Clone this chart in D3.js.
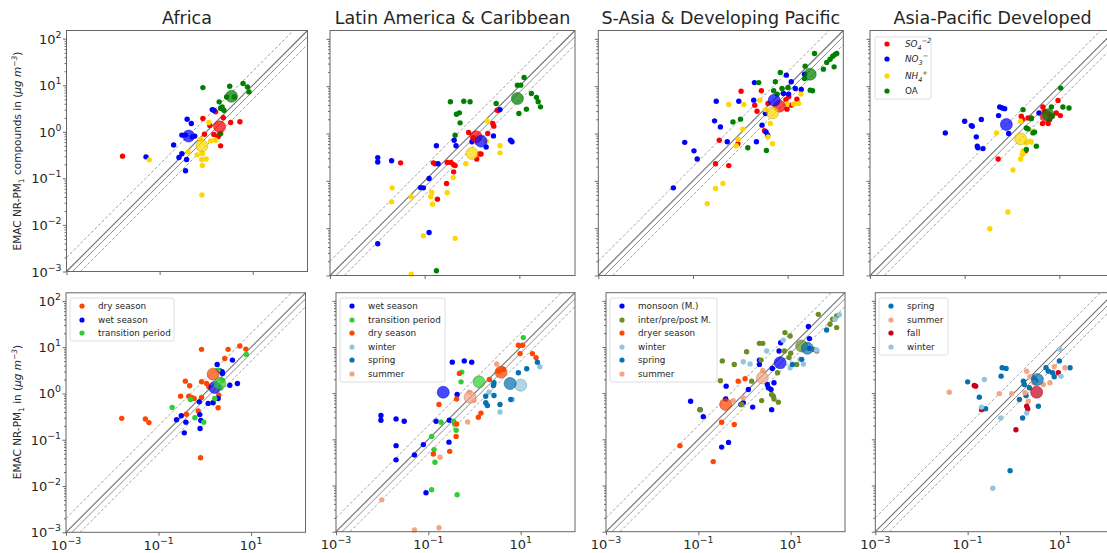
<!DOCTYPE html>
<html>
<head>
<meta charset="utf-8">
<script src="https://cdn.jsdelivr.net/npm/d3@7"></script>
<style>
  body { margin: 0; background: #fff; }
  svg text { font-family: "DejaVu Sans", sans-serif; fill: #262626; }
</style>
</head>
<body>
<svg id="chart" width="1107" height="553"></svg>
<script>
// ---------- titles and tick labels ----------
const regionTitles = ["Africa", "Latin America & Caribbean", "S-Asia & Developing Pacific", "Asia-Pacific Developed"];
const yTickExps = [-3, -2, -1, 0, 1, 2];
const xTickExps = [-3, -1, 1];

// ---------- compounds (observed, modelled) in µg m-3 ----------
// Africa
const afrSO4 = [[0.016,0.30],[0.85,1.93],[0.92,0.89],[1.2,1.37],[1.59,2.7],[1.79,0.78],[1.88,0.85],[2.04,0.50],[2.33,2.0],[3.35,1.58],[5.3,1.64],[1.46,0.88]];
const afrSO4Mean = [1.94,1.28];
const afrNO3 = [[0.051,0.29],[0.20,0.52],[0.26,0.28],[0.30,0.34],[0.38,0.255],[0.36,0.146],[0.39,1.87],[0.48,1.51],[0.30,0.85],[0.36,0.85],[0.50,0.78],[0.57,0.81],[1.35,3.0],[1.46,2.9]];
const afrNO3Mean = [0.42,0.81];
const afrNH4 = [[0.060,0.25],[0.41,0.37],[0.64,0.32],[0.83,0.34],[1.0,0.26],[0.80,0.255],[0.83,0.19],[0.81,0.044],[0.76,0.69],[1.24,0.64],[1.59,0.66],[1.14,1.58]];
const afrNH4Mean = [0.81,0.50];
const afrOA = [[0.85,8.9],[1.9,4.4],[2.04,3.2],[2.4,2.9],[2.2,3.4],[2.75,5.6],[3.2,9.5],[4.0,5.6],[6.2,10.9],[7.7,9.2],[8.3,7.2],[2.04,0.92]];
const afrOAMean = [3.5,5.8];

// Latin America & Caribbean
const latSO4 = [[0.031,0.24],[0.153,0.24],[0.166,0.23],[0.30,0.244],[0.36,0.244],[0.41,0.22],[0.44,0.21],[0.41,0.155],[0.29,0.088],[0.186,0.041],[0.85,1.05],[1.07,0.82],[1.43,0.37],[1.55,0.37],[1.26,0.29],[2.15,1.0],[2.75,1.63],[2.89,1.43],[3.4,3.1],[3.63,3.1]];
const latSO4Mean = [1.22,0.85];
const latNO3 = [[0.0102,0.31],[0.0102,0.25],[0.020,0.265],[0.177,0.55],[0.42,0.72],[0.46,0.55],[0.192,0.23],[0.124,0.112],[0.082,0.072],[0.094,0.071],[0.124,0.0081],[0.0102,0.0047],[1.0,0.67],[1.99,0.52],[2.84,0.89],[3.9,3.2],[6.5,0.72],[7.0,0.67]];
const latNO3Mean = [1.55,0.69];
const latNH4 = [[0.0205,0.071],[0.020,0.036],[0.052,0.046],[0.134,0.046],[0.141,0.057],[0.146,0.032],[0.30,0.056],[0.40,0.117],[0.74,0.23],[1.99,0.69],[2.08,1.85],[3.9,0.55],[3.9,0.39],[0.094,0.0069],[0.44,0.0061],[0.052,0.00107]];
const latNH4Mean = [1.0,0.38];
const latOA = [[0.35,4.7],[0.67,4.8],[0.91,4.7],[0.47,2.56],[0.54,2.73],[0.56,1.68],[0.44,0.92],[3.24,4.3],[9.1,10.5],[10.7,10.5],[12.6,15.2],[18,7.0],[23,5.8],[25,4.7],[28,3.66],[14.1,3.27],[9.8,2.65],[0.177,0.00126]];
const latOAMean = [9.1,5.5];

// S-Asia & Developing Pacific
const sasSO4 = [[0.30,0.23],[0.57,0.21],[0.36,0.72],[0.89,0.61],[2.02,3.97],[2.26,2.96],[1.04,7.8],[2.79,8.0],[3.85,4.3],[9.2,5.2],[10.5,6.0],[15.7,5.3],[11.9,3.97],[9.7,3.27],[3.23,1.14]];
const sasSO4Mean = [6.7,3.78];
const sasNO3 = [[0.0385,0.071],[0.067,0.65],[0.105,0.43],[0.123,0.29],[0.286,1.85],[0.38,1.38],[0.31,4.8],[0.53,0.67],[0.93,4.8],[1.99,11.9],[1.92,5.06],[2.88,1.5],[3.5,1.08],[3.79,0.92],[2.19,0.67],[9.4,17.1],[11.9,12.4],[14.5,8.9],[19.4,8.5],[8.2,7.0],[10.5,6.8],[22.8,17.9],[3.39,2.65]];
const sasNO3Mean = [5.2,5.06];
const sasNH4 = [[0.20,0.033],[0.30,0.069],[0.43,0.088],[0.57,4.1],[1.13,1.24],[0.90,0.75],[0.82,0.55],[1.19,4.1],[2.58,5.06],[3.39,3.2],[3.85,0.85],[4.8,0.61],[4.3,1.63],[17,4.3],[13.4,4.2],[19.1,6.8],[9.7,4.2]];
const sasNH4Mean = [4.8,2.73];
const sasOA = [[0.70,1.76],[1.01,2.01],[1.44,0.50],[3.56,0.44],[2.45,11.9],[5.5,12.4],[7.0,19.4],[5.07,8.0],[6.0,6.8],[7.6,8.9],[10.2,9.4],[23.5,26.5],[22.8,14.5],[37,49],[30,8.2],[33.6,8.0],[57,22.9],[67,31.6],[79,37],[90,43],[101,47],[109,49],[96,25.6]];
const sasOAMean = [30,17.9];

// Asia-Pacific Developed
const apdSO4 = [[0.51,0.29],[1.57,2.31],[1.65,2.03],[2.18,2.13],[2.56,2.13],[4.5,3.63],[4.9,2.94],[4.4,1.62],[5.8,1.62],[9.4,5.0],[8.6,2.71],[10.5,2.39],[1.94,0.43],[6.25,2.5]];
const apdSO4Mean = [5.3,2.31];
const apdNO3 = [[0.039,1.03],[0.10,1.81],[0.138,1.47],[0.145,1.42],[0.225,1.97],[0.176,0.85],[0.185,0.54],[0.19,0.50],[0.244,0.48],[0.52,2.39],[0.55,3.63],[0.625,3.45],[0.70,3.35],[0.85,1.0],[3.72,2.71]];
const apdNO3Mean = [0.76,1.55];
const apdNH4 = [[0.34,0.0097],[0.82,0.022],[1.05,0.17],[1.52,0.29],[1.65,0.36],[1.71,0.43],[2.01,0.64],[2.36,0.69],[2.56,0.66],[0.47,1.03],[1.52,1.81],[2.78,1.12]];
const apdNH4Mean = [1.52,0.77];
const apdOA = [[1.71,3.19],[2.56,2.06],[2.01,1.31],[2.18,1.25],[2.78,1.03],[3.0,1.07],[3.27,0.54],[2.01,0.46],[6.25,1.97],[7.1,2.31],[6.8,3.63],[10.7,9.1],[11.9,3.63],[16,3.45]];
const apdOAMean = [5.8,2.5];

// ---------- total NR-PM1 by season (observed, modelled) ----------
const afrDry = [[0.016,0.29],[0.052,0.28],[0.062,0.235],[0.30,0.875],[0.38,1.85],[0.47,1.47],[0.45,0.875],[0.52,0.82],[0.59,0.78],[0.85,1.79],[0.85,9.0],[1.09,1.65],[1.22,1.39],[1.94,0.49],[2.0,0.92],[2.7,5.7],[3.19,9.0],[5.7,10.6],[7.7,9.1],[0.40,0.357],[0.72,0.42],[0.81,0.041],[0.85,0.82]];
const afrDryMean = [1.51,2.62];
const afrWet = [[0.245,0.27],[0.31,0.33],[0.36,0.141],[0.39,0.24],[0.76,0.66],[0.78,0.35],[0.79,0.175],[0.82,0.26],[1.18,0.61],[1.51,0.63],[1.85,4.25],[2.1,3.1],[2.37,2.94],[1.94,0.78],[3.47,1.51],[3.95,5.27],[5.07,1.65],[2.4,2.71]];
const afrWetMean = [1.64,1.35];
const afrTrans = [[0.197,0.50],[0.49,0.74],[0.61,0.30],[0.95,0.24],[1.64,0.78],[1.94,3.2],[2.4,1.94],[7.9,7.0],[2.18,1.35]];
const afrTransMean = [2.1,1.65];

const latWet = [[0.0094,0.33],[0.0094,0.26],[0.020,0.277],[0.030,0.246],[0.020,0.073],[0.020,0.036],[0.050,0.046],[0.078,0.077],[0.089,0.0070],[0.147,0.246],[0.28,0.087],[0.285,0.26],[0.33,4.7],[0.60,5.0],[0.87,4.7],[0.42,0.935]];
const latWetMean = [0.21,1.05];
const latTrans = [[0.118,0.116],[0.133,0.060],[0.139,0.032],[0.118,0.0081],[0.42,0.0063],[0.188,0.234],[0.35,0.246],[0.40,0.157],[0.37,0.215],[0.51,1.76],[0.53,2.86],[11.4,16]];
const latTransMean = [1.25,1.76];
const latDry = [[0.128,0.048],[0.17,0.57],[0.29,0.055],[0.40,0.116],[0.41,0.215],[0.41,0.75],[0.47,2.68],[1.21,0.30],[1.38,0.37],[2.1,1.98],[3.28,3.0],[4.2,3.27],[8.9,10.9],[9.7,7.2],[11,10.9],[17.9,7.2],[21.5,5.9]];
const latDryMean = [3.75,2.86];
const latWinter = [[3.56,0.39],[6.6,0.73],[26,3.73],[2.06,1.05]];
const latWinterMean = [10,1.49];
const latSpring = [[1.75,0.86],[1.75,0.62],[1.9,0.54],[2.64,1.68],[2.56,1.47],[2.64,0.89],[3.56,0.57],[6.07,0.73],[8.9,2.77],[13.5,3.38],[23,4.7]];
const latSpringMean = [5.9,1.62];
const latSummer = [[0.0098,0.0049],[0.050,0.00109],[0.17,0.00122],[0.179,0.041],[0.71,0.238],[0.77,1.05],[0.975,0.70],[3.02,4.3]];
const latSummerMean = [0.80,0.82];

const sasMonsoon = [[0.068,0.67],[0.109,0.44],[0.128,0.31],[0.32,0.068],[0.45,0.086],[0.40,1.42],[0.39,0.75],[0.84,0.57],[0.94,0.62],[1.50,0.50],[1.21,1.2],[2.1,5.2],[2.1,4.2],[3.12,1.54],[3.28,1.31],[3.75,1.2],[3.87,0.44],[4.35,1.68],[4.0,3.44],[5.6,8.2],[6.07,12.4],[24.2,27.7],[25.4,15.2],[25.4,9.35]];
const sasMonsoonMean = [5.9,4.56];
const sasInter = [[0.109,0.44],[0.33,5.0],[0.60,4.2],[1.11,7.9],[1.43,1.82],[2.1,12],[2.48,12],[3.87,0.935],[4.2,0.86],[4.35,0.75],[5.4,0.64],[2.35,0.69],[2.28,5.2],[5.2,2.77],[7.5,20.5],[9.7,17.3],[10,7.3],[9.2,5.9],[7.3,8.2],[13.5,4.2],[31,8.9],[36.6,8.2],[39.7,51],[71,31],[81,40],[99,26.3],[99,47],[0.87,0.57],[0.30,1.86]];
const sasInterMean = [17.3,10.5];
const sasDryer = [[0.040,0.073],[0.21,0.033],[0.32,0.234],[0.60,0.21],[0.73,1.82],[1.03,2.05]];
const sasDryerMean = [0.39,0.57];
const sasWinter = [[0.94,4.8],[1.32,4.3],[3.02,8.2],[6.9,14],[9.7,3.56],[18.8,4.3],[15.9,5.4],[36.6,8.6],[91,40],[113,50]];
const sasSpring = [[17.3,5.4],[60,23.4],[10.9,4.2]];
const sasSpringMean = [23,9.35];
const sasSummer = [[0.57,0.69],[0.94,0.79],[2.48,3.11]];
const sasSummerMean = [2.43,2.15];

const apdSpring = [[0.10,1.76],[0.179,0.82],[0.245,0.46],[0.53,2.34],[0.56,3.56],[0.68,3.44],[0.83,0.021],[1.32,0.73],[1.55,0.29],[1.61,1.82],[1.69,1.54],[1.84,0.89],[2.17,1.31],[2.64,2.15],[2.97,1.88],[3.4,0.52],[4.98,3.56],[5.6,3.0],[6.9,2.77],[9.7,5.0],[16.5,3.56],[7.5,2.27]];
const apdSpringMean = [3.23,1.98];
const apdSummer = [[0.040,1.05],[0.485,0.98],[0.90,0.98],[1.90,3.0],[1.75,1.02],[2.06,0.67],[2.24,2.27],[2.74,1.68],[4.35,1.54],[6.07,1.68],[7.5,3.73],[12.8,3.56]];
const apdFall = [[0.139,1.47],[0.149,1.42],[0.20,0.44],[1.11,0.162],[1.90,0.52],[2.0,0.456],[9.2,2.77]];
const apdFallMean = [3.12,1.05];
const apdWinter = [[0.23,1.98],[0.20,0.50],[0.52,0.29],[0.35,0.0087],[1.90,0.37],[10,8.9],[10.5,2.34]];

// ---------- colours ----------
const C = {
  so4: "#ff0000", no3: "#0000ff", nh4: "#ffd700", oa: "#008000",
  dry: "#ff4500", wet: "#0000ff", trans: "#32cd32",
  winter: "#92c5de", spring: "#0571b0", summer: "#f4a582", fall: "#ca0020",
  monsoon: "#0000ff", inter: "#6b8e23"
};

// legend labels: arrays of [text, style] runs ("i" italic, "sub", "sup")
const compoundLabels = [
  [["SO", "i"], ["4", "sub"], ["−2", "sup"]],
  [["NO", "i"], ["3", "sub"], ["−", "sup"]],
  [["NH", "i"], ["4", "sub"], ["+", "sup"]],
  [["OA", ""]]
];

// ---------- panel layout ----------
const panels = [
  { box: {x: 66.5, y: 30.5, s: 241}, title: regionTitles[0], yLabels: true, xLabels: false,
    series: [
      {c: C.so4, pts: afrSO4, mean: afrSO4Mean}, {c: C.no3, pts: afrNO3, mean: afrNO3Mean},
      {c: C.nh4, pts: afrNH4, mean: afrNH4Mean}, {c: C.oa, pts: afrOA, mean: afrOAMean}] },
  { box: {x: 330, y: 30.5, s: 245}, title: regionTitles[1], yLabels: false, xLabels: false,
    series: [
      {c: C.so4, pts: latSO4, mean: latSO4Mean}, {c: C.no3, pts: latNO3, mean: latNO3Mean},
      {c: C.nh4, pts: latNH4, mean: latNH4Mean}, {c: C.oa, pts: latOA, mean: latOAMean}] },
  { box: {x: 598.3, y: 30.5, s: 245}, title: regionTitles[2], yLabels: false, xLabels: false,
    series: [
      {c: C.so4, pts: sasSO4, mean: sasSO4Mean}, {c: C.no3, pts: sasNO3, mean: sasNO3Mean},
      {c: C.nh4, pts: sasNH4, mean: sasNH4Mean}, {c: C.oa, pts: sasOA, mean: sasOAMean}] },
  { box: {x: 870, y: 30.5, s: 245}, title: regionTitles[3], yLabels: false, xLabels: false,
    series: [
      {c: C.so4, pts: apdSO4, mean: apdSO4Mean}, {c: C.no3, pts: apdNO3, mean: apdNO3Mean},
      {c: C.nh4, pts: apdNH4, mean: apdNH4Mean}, {c: C.oa, pts: apdOA, mean: apdOAMean}],
    legend: {x: 875, y: 37, w: 56, rowY: [44, 59, 76, 91], labels: compoundLabels, colors: [C.so4, C.no3, C.nh4, C.oa], math: true} },

  { box: {x: 66, y: 292.8, s: 239.5}, yLabels: true, xLabels: true,
    series: [
      {c: C.dry, pts: afrDry, mean: afrDryMean}, {c: C.wet, pts: afrWet, mean: afrWetMean},
      {c: C.trans, pts: afrTrans, mean: afrTransMean}],
    legend: {x: 70, y: 298, w: 104, rowY: [306, 320, 333], labels: ["dry season", "wet season", "transition period"], colors: [C.dry, C.wet, C.trans]} },
  { box: {x: 336, y: 292.7, s: 239}, yLabels: false, xLabels: true,
    series: [
      {c: C.wet, pts: latWet, mean: latWetMean}, {c: C.trans, pts: latTrans, mean: latTransMean},
      {c: C.dry, pts: latDry, mean: latDryMean}, {c: C.winter, pts: latWinter, mean: latWinterMean},
      {c: C.spring, pts: latSpring, mean: latSpringMean}, {c: C.summer, pts: latSummer, mean: latSummerMean}],
    legend: {x: 340, y: 298, w: 105, rowY: [306, 320, 333, 347, 360, 374], labels: ["wet season", "transition period", "dry season", "winter", "spring", "summer"], colors: [C.wet, C.trans, C.dry, C.winter, C.spring, C.summer]} },
  { box: {x: 606, y: 292.7, s: 239}, yLabels: false, xLabels: true,
    series: [
      {c: C.monsoon, pts: sasMonsoon, mean: sasMonsoonMean}, {c: C.inter, pts: sasInter, mean: sasInterMean},
      {c: C.dry, pts: sasDryer, mean: sasDryerMean}, {c: C.winter, pts: sasWinter, mean: null},
      {c: C.spring, pts: sasSpring, mean: sasSpringMean}, {c: C.summer, pts: sasSummer, mean: sasSummerMean}],
    legend: {x: 610, y: 298, w: 107, rowY: [306, 320, 333, 347, 360, 374], labels: ["monsoon (M.)", "inter/pre/post M.", "dryer season", "winter", "spring", "summer"], colors: [C.monsoon, C.inter, C.dry, C.winter, C.spring, C.summer]} },
  { box: {x: 875.3, y: 292.7, s: 239}, yLabels: false, xLabels: true,
    series: [
      {c: C.spring, pts: apdSpring, mean: apdSpringMean}, {c: C.summer, pts: apdSummer, mean: null},
      {c: C.fall, pts: apdFall, mean: apdFallMean}, {c: C.winter, pts: apdWinter, mean: null}],
    legend: {x: 879, y: 298, w: 69, rowY: [306, 320, 333, 347], labels: ["spring", "summer", "fall", "winter"], colors: [C.spring, C.summer, C.fall, C.winter]} }
];

const svg = d3.select("#chart");
const domain = [1e-3, 150];
// reference ratio lines (model / observation): 1:1, a close companion line, and the factor-2 envelope
const ratios = [
  {k: 1, dash: null, w: 1.1, c: "#6e6e6e"},
  {k: 1 / 1.35, dash: null, w: 0.9, c: "#7e7e7e"},
  {k: 2, dash: "3,2", w: 0.8, c: "#8a8a8a"},
  {k: 0.5, dash: "3,2", w: 0.8, c: "#8a8a8a"}
];

function powLabel(sel, exp) {
  sel.append("tspan").text("10");
  sel.append("tspan").attr("dy", -6).attr("font-size", "0.72em")
    .text(exp < 0 ? "\u2212" + (-exp) : String(exp));
}

function drawPanel(p) {
  const b = p.box;
  const x = d3.scaleLog().domain(domain).range([b.x, b.x + b.s]);
  const y = d3.scaleLog().domain(domain).range([b.y + b.s, b.y]);
  const g = svg.append("g");

  ratios.forEach(r => {
    const x0 = Math.max(domain[0], domain[0] / r.k), x1 = Math.min(domain[1], domain[1] / r.k);
    g.append("line")
      .attr("x1", x(x0)).attr("y1", y(x0 * r.k))
      .attr("x2", x(x1)).attr("y2", y(x1 * r.k))
      .attr("stroke", r.c).attr("stroke-width", r.w)
      .attr("stroke-dasharray", r.dash);
  });

  // observations
  p.series.forEach(s => {
    g.append("g").selectAll("circle").data(s.pts).join("circle")
      .attr("cx", d => x(d[0])).attr("cy", d => y(d[1]))
      .attr("r", 2.7).attr("fill", s.c);
  });
  // regional means
  p.series.forEach(s => {
    if (!s.mean) return;
    g.append("circle")
      .attr("cx", x(s.mean[0])).attr("cy", y(s.mean[1])).attr("r", 6)
      .attr("fill", s.c).attr("fill-opacity", 0.72)
      .attr("stroke", d3.color(s.c).darker(0.9)).attr("stroke-opacity", 0.6).attr("stroke-width", 0.8);
  });

  // axes
  const major = yTickExps.map(e => Math.pow(10, e));
  const minor = [];
  for (let e = -3; e <= 2; e++) for (let m = 2; m <= 9; m++) { const v = m * Math.pow(10, e); if (v <= domain[1]) minor.push(v); }
  const ay = g.append("g").attr("transform", `translate(${b.x},0)`);
  ay.call(d3.axisLeft(y).tickValues(major).tickSize(3.5).tickFormat(""));
  ay.append("g").call(d3.axisLeft(y).tickValues(minor).tickSize(2).tickFormat(""));
  const ax = g.append("g").attr("transform", `translate(0,${b.y + b.s})`);
  ax.call(d3.axisBottom(x).tickValues(xTickExps.map(e => Math.pow(10, e))).tickSize(3.5).tickFormat(""));
  g.selectAll(".domain").remove();
  g.selectAll(".tick line").attr("stroke", "#444").attr("stroke-width", 0.8);

  g.append("rect").attr("x", b.x).attr("y", b.y).attr("width", b.s).attr("height", b.s)
    .attr("fill", "none").attr("stroke", "#666").attr("stroke-width", 1);

  if (p.yLabels) {
    yTickExps.forEach(e => {
      const t = g.append("text").attr("x", b.x - 5).attr("y", y(Math.pow(10, e)) + 5)
        .attr("text-anchor", "end").attr("font-size", 13);
      powLabel(t, e);
    });
  }
  if (p.xLabels) {
    xTickExps.forEach(e => {
      const t = g.append("text").attr("x", x(Math.pow(10, e))).attr("y", b.y + b.s + 17.5)
        .attr("text-anchor", "middle").attr("font-size", 13);
      powLabel(t, e);
    });
  }
  if (p.title) {
    g.append("text").attr("x", b.x + b.s / 2).attr("y", 24).attr("text-anchor", "middle")
      .attr("font-size", 17.5).text(p.title);
  }
  if (p.legend) drawLegend(g, p.legend);
}

function drawLegend(g, L) {
  const h = L.rowY[L.rowY.length - 1] - L.y + 8;
  g.append("rect").attr("x", L.x).attr("y", L.y).attr("width", L.w).attr("height", h)
    .attr("rx", 2).attr("fill", "#fff").attr("fill-opacity", 0.85)
    .attr("stroke", "#d6d6d6").attr("stroke-width", 0.8);
  L.labels.forEach((lab, i) => {
    const cy = L.rowY[i];
    g.append("circle").attr("cx", L.x + 12).attr("cy", cy).attr("r", 2.6).attr("fill", L.colors[i]);
    const t = g.append("text").attr("x", L.x + (L.math ? 30 : 28)).attr("y", cy + 3.3).attr("font-size", 8.8);
    if (typeof lab === "string") { t.text(lab); return; }
    let shift = 0;
    lab.forEach(([txt, st]) => {
      const ts = t.append("tspan").text(txt);
      if (st === "i") ts.attr("font-style", "italic");
      if (st === "sub") { ts.attr("dy", 2.5 - shift).attr("font-size", 6.5).attr("font-style", "italic"); shift = 2.5; }
      if (st === "sup") { ts.attr("dy", -4.5 - shift).attr("font-size", 6.5).attr("font-style", "italic"); shift = -4.5; }
    });
  });
}

panels.forEach(drawPanel);

// y-axis labels
function yLabel(cy, mid) {
  const t = svg.append("text").attr("transform", `translate(21,${cy}) rotate(-90)`)
    .attr("text-anchor", "middle").attr("font-size", 10.5);
  t.append("tspan").text("EMAC NR-PM");
  t.append("tspan").attr("dy", 2.5).attr("font-size", 7.5).text("1");
  t.append("tspan").attr("dy", -2.5).text(mid + " (");
  t.append("tspan").attr("font-style", "italic").text("\u03bcg m");
  t.append("tspan").attr("dy", -4).attr("font-size", 7.5).attr("font-style", "italic").text("\u22123");
  t.append("tspan").attr("dy", 4).text(")");
}
yLabel(151, " compounds in");
yLabel(412, " in");
</script>
</body>
</html>
